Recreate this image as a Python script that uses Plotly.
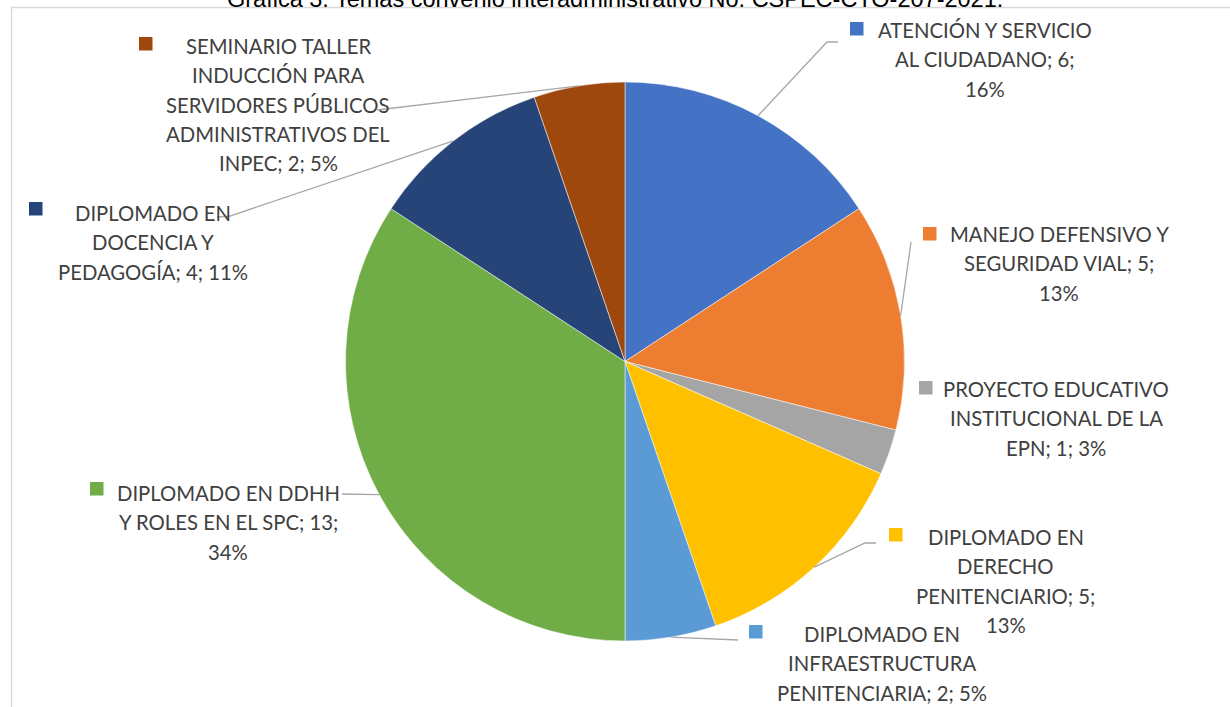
import math
import plotly.graph_objects as go

# ---------------- data ----------------
categories = [
    "ATENCIÓN Y SERVICIO AL CIUDADANO",
    "MANEJO DEFENSIVO Y SEGURIDAD VIAL",
    "PROYECTO EDUCATIVO INSTITUCIONAL DE LA EPN",
    "DIPLOMADO EN DERECHO PENITENCIARIO",
    "DIPLOMADO EN INFRAESTRUCTURA PENITENCIARIA",
    "DIPLOMADO EN DDHH Y ROLES EN EL SPC",
    "DIPLOMADO EN DOCENCIA Y PEDAGOGÍA",
    "SEMINARIO TALLER INDUCCIÓN PARA SERVIDORES PÚBLICOS ADMINISTRATIVOS DEL INPEC",
]
values = [6, 5, 1, 5, 2, 13, 4, 2]
colors = ["#4472C4", "#ED7D31", "#A5A5A5", "#FFC000",
          "#5B9BD5", "#70AD47", "#264478", "#9E480E"]
title_text = "Gráfica 3. Temas convenio interadministrativo No. CSPEC-CTO-207-2021."

# ---------------- layout constants (pixels) ----------------
W, H = 1230, 707
CX, CY, R = 625, 361.5, 279.5
LINE_H = 29.3
FONT = "Lato, 'Open Sans', sans-serif"
FSIZE = 20.3
TXT_COL = "#404040"
LEADER_COL = "#A6A6A6"

# per label: center x, first line center y, words per line, square top-left, extra leader points
label_layout = [
    dict(cx=984.5, y0=30, words=[3, 3, 1], sq=(850, 22), leader=[(827, 42), (838, 42)]),
    dict(cx=1059, y0=234, words=[3, 3, 1], sq=(923, 227), leader=[(911, 242)]),
    dict(cx=1056, y0=389, words=[2, 3, 3], sq=(919, 381), leader=None),
    dict(cx=1005.5, y0=537, words=[2, 1, 2, 1], sq=(889, 528), leader=[(865, 543), (876, 543)]),
    dict(cx=882, y0=634, words=[2, 1, 3], sq=(749, 625), leader=[(738, 640)]),
    dict(cx=228, y0=493, words=[3, 6, 1], sq=(90, 482), leader=[(342, 494)]),
    dict(cx=152.5, y0=213, words=[2, 2, 3], sq=(29, 202), leader=[(230, 216), (217, 217)]),
    dict(cx=278, y0=46, words=[2, 2, 2, 2, 3], sq=(139, 37), leader=[(377, 110)]),
]


def px(x):
    return x / W


def py(y):
    return 1 - y / H


fig = go.Figure(go.Pie(
    labels=categories,
    values=values,
    sort=False,
    direction="clockwise",
    rotation=0,
    marker=dict(colors=colors, line=dict(color="white", width=0.5)),
    textinfo="none",
    hoverinfo="label+value+percent",
    showlegend=False,
    domain=dict(x=[px(CX - R), px(CX + R)], y=[py(CY + R), py(CY - R)]),
))

total = sum(values)
shapes = []
annotations = []

# frame
shapes.append(dict(type="rect", xref="paper", yref="paper",
                   x0=px(11.5), x1=px(1245), y0=py(725), y1=py(7.5),
                   line=dict(color="#D9D9D9", width=1.5), fillcolor="rgba(0,0,0,0)", layer="below"))

cum = 0
for cat, v, col, lay in zip(categories, values, colors, label_layout):
    pct = round(100 * v / total + 1e-9)
    text = f"{cat}; {v}; {pct}%"
    words = text.split(" ")
    lines = []
    i = 0
    for n in lay["words"]:
        lines.append(" ".join(words[i:i + n]))
        i += n
    for k, ln in enumerate(lines):
        annotations.append(dict(
            x=px(lay["cx"]), y=py(lay["y0"] + k * LINE_H), xref="paper", yref="paper",
            text=ln, showarrow=False, xanchor="center", yanchor="middle",
            font=dict(family=FONT, size=FSIZE, color=TXT_COL)))
    sx, sy = lay["sq"]
    shapes.append(dict(type="rect", xref="paper", yref="paper",
                       x0=px(sx), x1=px(sx + 13.5), y0=py(sy + 13.5), y1=py(sy),
                       line=dict(width=0), fillcolor=col))
    mid = (cum + v / 2) / total * 2 * math.pi
    cum += v
    if lay["leader"]:
        ex = CX + R * math.sin(mid)
        ey = CY - R * math.cos(mid)
        pts = [(ex, ey)] + lay["leader"]
        path = "M " + " L ".join(f"{px(a)},{py(b)}" for a, b in pts)
        shapes.append(dict(type="path", xref="paper", yref="paper", path=path,
                           line=dict(color=LEADER_COL, width=1.3)))

annotations.append(dict(
    x=px(615), y=py(-1.5), xref="paper", yref="paper", text=title_text, showarrow=False,
    xanchor="center", yanchor="middle",
    font=dict(family="'Liberation Sans', Arial, sans-serif", size=23.5, color="#000000")))

fig.update_layout(
    width=W, height=H,
    margin=dict(l=0, r=0, t=0, b=0),
    paper_bgcolor="white", plot_bgcolor="white",
    shapes=shapes, annotations=annotations,
)

fig.write_html("out.html")
